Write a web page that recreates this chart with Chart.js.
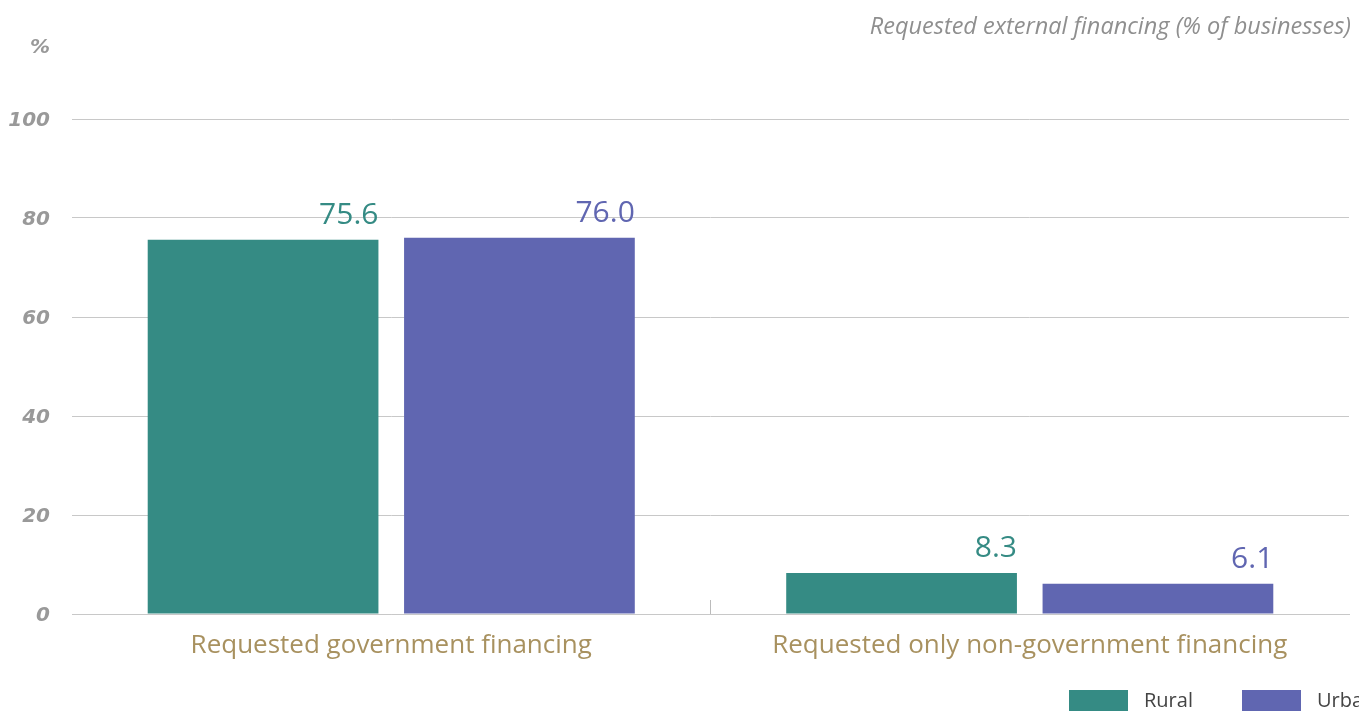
<!DOCTYPE html>
<html>
<head>
<meta charset="utf-8">
<script src="https://cdn.jsdelivr.net/npm/chart.js@4"></script>
<style>
  html, body { margin: 0; padding: 0; background: #fff; overflow: hidden; }
  #wrap { width: 1359px; height: 711px; position: relative; }
</style>
</head>
<body>
<div id="wrap"><canvas id="chart" width="1359" height="711"></canvas></div>
<script>
// chart data
var categories = ['Requested government financing', 'Requested only non-government financing'];
var seriesNames = ['Rural', 'Urban'];
var ruralValues = [75.6, 8.3];
var urbanValues = [76.0, 6.1];
var seriesColors = ['#358b84', '#6066b1'];
var yTicks = [0, 20, 40, 60, 80, 100];
var chartTitle = 'Requested external financing (% of businesses)';
var yUnit = '%';

// value labels above each bar, right aligned to the bar edge
var barLabels = {
    id: 'barLabels',
    afterDatasetsDraw: function (chart) {
        var ctx = chart.ctx;
        ctx.save();
        ctx.font = '30px "Open Sans", "Noto Sans", sans-serif';
        ctx.textAlign = 'right';
        ctx.textBaseline = 'alphabetic';
        chart.data.datasets.forEach(function (ds, i) {
            var meta = chart.getDatasetMeta(i);
            ctx.fillStyle = ds.backgroundColor;
            meta.data.forEach(function (bar, j) {
                var right = bar.x + bar.width / 2;
                ctx.fillText(ds.data[j].toFixed(1), right, bar.y - 16);
            });
        });

        // small divider tick between categories
        var x = chart.scales.x;
        var bottom = chart.chartArea.bottom;
        ctx.strokeStyle = '#bbbbbb';
        ctx.lineWidth = 1;
        for (var k = 1; k < categories.length; k++) {
            var mid = (x.getPixelForTick(k - 1) + x.getPixelForTick(k)) / 2;
            ctx.beginPath();
            ctx.moveTo(Math.round(mid) - 0.5, bottom - 14);
            ctx.lineTo(Math.round(mid) - 0.5, bottom);
            ctx.stroke();
        }
        ctx.restore();
    }
};

// title, unit and legend drawn outside the plot
var extras = {
    id: 'extras',
    afterDraw: function (chart) {
        var ctx = chart.ctx;
        var area = chart.chartArea;
        ctx.save();
        ctx.fillStyle = '#8f8f8f';
        ctx.font = 'italic 23.5px "Open Sans", "Noto Sans", sans-serif';
        ctx.textAlign = 'right';
        ctx.textBaseline = 'middle';
        ctx.fillText(chartTitle, area.right + 2, 27);

        ctx.fillStyle = '#999999';
        ctx.font = 'italic bold 20px "DejaVu Sans", sans-serif';
        ctx.fillText(yUnit, 50, 48);

        // legend
        var lx = 1069;
        ctx.font = '20px "Open Sans", "Noto Sans", sans-serif';
        ctx.textAlign = 'left';
        seriesNames.forEach(function (name, i) {
            ctx.fillStyle = seriesColors[i];
            ctx.fillRect(lx, 690, 59, 24);
            ctx.fillStyle = '#444';
            ctx.fillText(name, lx + 75, 701);
            lx += 173;
        });
        ctx.restore();
    }
};

var ctx = document.getElementById('chart').getContext('2d');
var chart = new Chart(ctx, {
    type: 'bar',
    data: {
        labels: categories,
        datasets: [{
            label: seriesNames[0],
            data: ruralValues,
            backgroundColor: seriesColors[0]
        }, {
            label: seriesNames[1],
            data: urbanValues,
            backgroundColor: seriesColors[1]
        }]
    },
    options: {
        responsive: false,
        animation: false,
        devicePixelRatio: 1,
        categoryPercentage: 0.803,
        barPercentage: 0.9,
        layout: { padding: { top: 119, right: 10, left: 0, bottom: 0 } },
        plugins: {
            legend: { display: false },
            tooltip: { enabled: false }
        },
        scales: {
            x: {
                grid: { display: false, drawTicks: false },
                border: { display: true, color: '#c8c8c8', width: 1 },
                ticks: {
                    color: '#a8915f',
                    font: { family: '"Open Sans", "Noto Sans", sans-serif', size: 26 },
                    padding: 16
                },
                afterFit: function (scale) { scale.height = 97; }
            },
            y: {
                min: 0,
                max: 100,
                afterBuildTicks: function (scale) {
                    scale.ticks = yTicks.map(function (v) { return { value: v }; });
                },
                grid: { color: '#c8c8c8', drawTicks: false },
                border: { display: false },
                ticks: {
                    color: '#999999',
                    font: { family: '"DejaVu Sans", sans-serif', size: 20, style: 'italic', weight: 'bold' },
                    padding: 22,
                    labelOffset: 2
                },
                afterFit: function (scale) { scale.width = 72; }
            }
        }
    },
    plugins: [barLabels, extras]
});
</script>
</body>
</html>
